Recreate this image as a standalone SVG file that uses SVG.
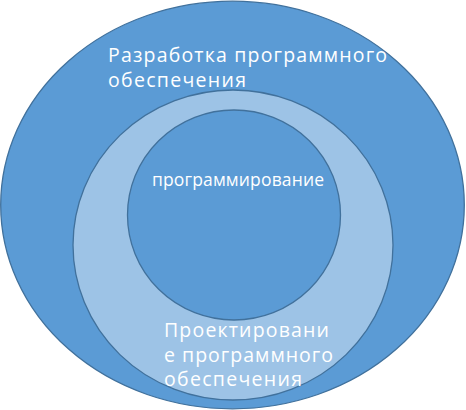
<svg xmlns="http://www.w3.org/2000/svg" width="466" height="410" viewBox="0 0 466 410">
<style>
.dark{fill:#5B9BD5;stroke:#41719C;stroke-width:1.3}
.light{fill:#9DC3E6;stroke:#41719C;stroke-width:1.3}
.t{fill:#FFFFFF;font-family:"Open Sans","DejaVu Sans",sans-serif;font-size:19.5px}
.s{font-size:17.5px}
</style>
<rect width="466" height="410" fill="#FFFFFF"/>
<g id="outer">
<ellipse class="dark" cx="232.5" cy="205" rx="231.8" ry="203.8"/>
<text class="t" x="108" y="62" textLength="279" lengthAdjust="spacing">Разработка программного</text>
<text class="t" x="108" y="87" textLength="138" lengthAdjust="spacing">обеспечения</text>
</g>
<g id="middle">
<ellipse class="light" cx="233" cy="245" rx="160" ry="155"/>
<text class="t" x="164" y="337" textLength="165" lengthAdjust="spacing">Проектировани</text>
<text class="t" x="164" y="362" textLength="169" lengthAdjust="spacing">е программного</text>
<text class="t" x="164" y="386" textLength="138" lengthAdjust="spacing">обеспечения</text>
</g>
<g id="inner">
<ellipse class="dark" cx="234" cy="215" rx="106.5" ry="105"/>
<text class="t s" x="152" y="186" textLength="172" lengthAdjust="spacing">программирование</text>
</g>
<g id="connectors"></g>
</svg>
